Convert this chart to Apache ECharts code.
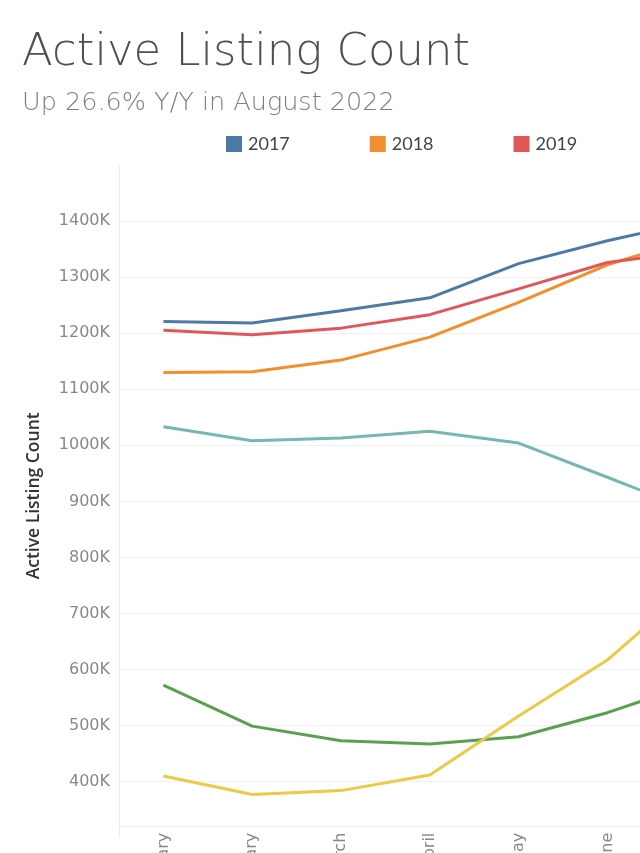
<!DOCTYPE html>
<html>
<head>
<meta charset="utf-8">
<script src="https://cdn.jsdelivr.net/npm/echarts@6/dist/echarts.min.js"></script>
<style>
html,body{margin:0;padding:0;background:#fff;}
#chart{width:640px;height:853px;}
</style>
</head>
<body>
<div id="chart"></div>
<script>
const months = ['January','February','March','April','May','June','July'];
const years = ['2017','2018','2019','2020','2021','2022'];
const s2017 = [1221000, 1218000, 1240000, 1263000, 1324000, 1365000, 1400000];
const s2018 = [1130000, 1131000, 1152000, 1193000, 1255000, 1322000, 1370000];
const s2019 = [1205000, 1197000, 1209000, 1233000, 1279000, 1326000, 1347000];
const s2020 = [1033000, 1008000, 1013000, 1025000, 1004000, 943000, 881000];
const s2021 = [572000, 499000, 473000, 467000, 480000, 523000, 577000];
const s2022 = [410000, 377000, 384000, 412000, 517000, 617000, 754000];
const seriesValues = [s2017, s2018, s2019, s2020, s2021, s2022];
const colors = ['#4e79a7','#f28e2b','#e15759','#76b7b2','#59a14f','#edc948'];

const chart = echarts.init(document.getElementById('chart'), null, {renderer:'canvas'});
chart.setOption({
  backgroundColor:'#fff',
  animation:false,
  color: colors,
  title:{
    text:'Active Listing Count',
    subtext:'Up 26.6% Y/Y in August 2022',
    left:17, top:26,
    itemGap:14,
    textStyle:{fontFamily:'DejaVu Sans', fontWeight:200, fontSize:45, color:'#505050'},
    subtextStyle:{fontFamily:'DejaVu Sans', fontWeight:200, fontSize:25.5, color:'#7e7e7e'}
  },
  legend:{
    data: years,
    left:221, top:130, width:1200,
    icon:'rect', itemWidth:16, itemHeight:16, itemGap:80,
    textStyle:{fontFamily:'Lato', fontSize:18, color:'#444', padding:[0,0,0,1]}
  },
  grid:{left:119, top:165, height:672.7, width:621.6, outerBoundsMode:'none', containLabel:false},
  xAxis:{
    type:'category', data:months, boundaryGap:true,
    offset:-11,
    axisLine:{show:true, lineStyle:{color:'#ececec'}},
    axisTick:{show:false},
    axisLabel:{rotate:90, margin:6, fontFamily:'DejaVu Sans', fontSize:16, color:'#888'},
    splitLine:{show:false}
  },
  yAxis:{
    type:'value', min:300000, max:1500000, interval:100000,
    name:'Active Listing Count', nameLocation:'middle', nameGap:76,
    nameTextStyle:{fontFamily:'Open Sans', fontWeight:600, fontSize:17.5, color:'#333', padding:[0,0,0,11]},
    axisLine:{show:true, lineStyle:{color:'#ececec'}},
    axisTick:{show:false},
    axisLabel:{margin:9, fontFamily:'DejaVu Sans', fontSize:16, color:'#888',
      formatter: v => (v < 400000 || v > 1400000) ? '' : (v/1000) + 'K'},
    splitLine:{show:true, showMinLine:false, showMaxLine:false, lineStyle:{color:'#f0f0f0', width:1}}
  },
  series: years.map((y,i)=>({
    name:y, type:'line', data:seriesValues[i], symbol:'none',
    lineStyle:{width:3, color:colors[i]}, itemStyle:{color:colors[i]}
  }))
});
</script>
</body>
</html>
